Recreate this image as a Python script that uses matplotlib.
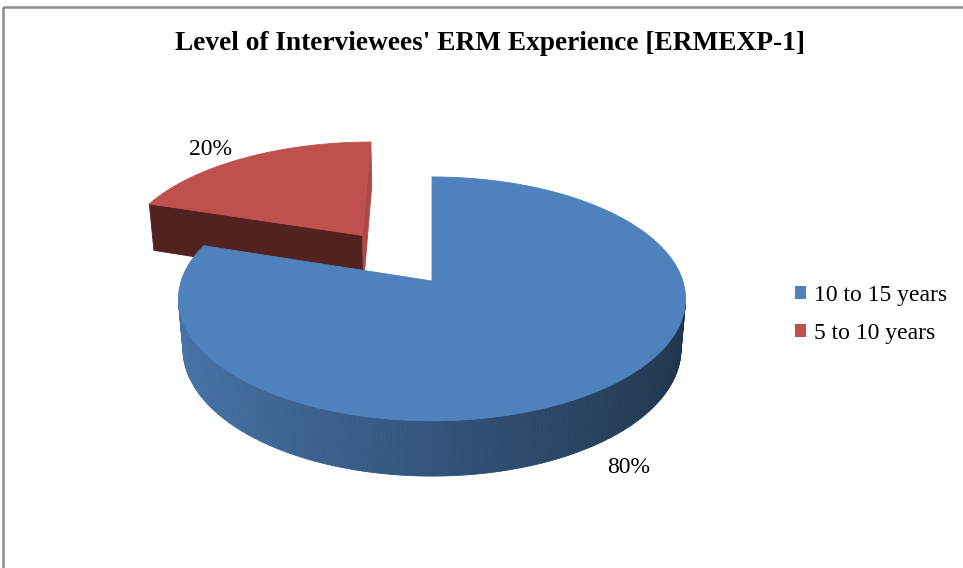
import numpy as np
import matplotlib.pyplot as plt
from matplotlib.colors import to_rgb
from matplotlib.patches import Polygon, Rectangle, Patch

title = "Level of Interviewees' ERM Experience [ERMEXP-1]"
labels = ['10 to 15 years', '5 to 10 years']
shares = [80, 20]
colors = ['#4F81BD', '#C0504D']
explode = [0.0, 0.5]

# simple perspective camera looking down on the pie
elev = np.radians(28.4)
dist = 6.0
focal = 1505.0
thick = 0.23
cx, cy = 432, 281
cam = np.array([0.0, -dist * np.cos(elev), dist * np.sin(elev)])

serif = ['Liberation Serif', 'DejaVu Serif']


def project(x, y, z):
    depth = dist + y * np.cos(elev) - z * np.sin(elev)
    u = focal * x / depth
    v = focal * (y * np.sin(elev) + z * np.cos(elev)) / depth
    return cx + u, cy - v


def shade(color, k):
    r, g, b = to_rgb(color)
    return (r * k, g * k, b * k)


def draw_poly(ax, pts3d, color):
    xs, ys = project(*np.array(pts3d).T)
    ax.add_patch(Polygon(np.column_stack([xs, ys]), closed=True,
                         facecolor=color, edgecolor=color, lw=0.6))


fig = plt.figure(figsize=(9.63, 5.68), dpi=100)
ax = fig.add_axes([0, 0, 1, 1])
ax.set_xlim(0, 963)
ax.set_ylim(568, 0)
ax.axis('off')

total = sum(shares)
starts = np.cumsum([0] + shares[:-1]) / total * 360

# back slice first so the front one covers it
for i in [1, 0]:
    a0 = np.radians(starts[i])
    a1 = np.radians(starts[i] + shares[i] / total * 360)
    mid = (a0 + a1) / 2
    ox, oy = explode[i] * np.sin(mid), explode[i] * np.cos(mid)
    apex = np.array([ox, oy, 0.0])

    # radial side faces
    for a, sgn in [(a0, -1), (a1, 1)]:
        normal = np.array([sgn * np.cos(a), -sgn * np.sin(a), 0.0])
        if np.dot(normal, cam - apex) < -1e-9:
            continue
        ex, ey = ox + np.sin(a), oy + np.cos(a)
        k = 0.42 if sgn < 0 or i == 0 else 0.9
        draw_poly(ax, [(ox, oy, 0), (ex, ey, 0), (ex, ey, -thick),
                       (ox, oy, -thick)], shade(colors[i], k))

    # outer curved wall, shaded from left to right
    t = np.linspace(a0, a1, 360)
    for ta, tb in zip(t[:-1], t[1:]):
        tm = (ta + tb) / 2
        p = np.array([ox + np.sin(tm), oy + np.cos(tm), 0.0])
        n = np.array([np.sin(tm), np.cos(tm), 0.0])
        if np.dot(n, cam - p) <= 0:
            continue
        k = 0.65 - 0.25 * np.sin(tm)
        draw_poly(ax, [(ox + np.sin(ta), oy + np.cos(ta), 0),
                       (ox + np.sin(tb), oy + np.cos(tb), 0),
                       (ox + np.sin(tb), oy + np.cos(tb), -thick),
                       (ox + np.sin(ta), oy + np.cos(ta), -thick)],
                  shade(colors[i], k))

    # top face
    top = [(ox, oy, 0)] + [(ox + np.sin(a), oy + np.cos(a), 0) for a in t]
    draw_poly(ax, top, colors[i])

    # percentage label just outside the slice
    if i == 0:
        lx, ly = project(ox + 1.17 * np.sin(mid), oy + 1.17 * np.cos(mid), -thick)
        ax.text(lx, ly, f'{shares[i]}%', ha='center', va='center',
                fontsize=17, family=serif)
    else:
        lx, ly = project(ox + 1.12 * np.sin(mid), oy + 1.12 * np.cos(mid), 0)
        ax.text(lx, ly, f'{shares[i]}%', ha='right', va='center',
                fontsize=17, family=serif)

# chart frame
ax.add_patch(Rectangle((2.5, 6.5), 980, 600, fill=False, ec='#8c8c8c', lw=1.8))

fig.text(490 / 963, 1 - 44 / 568, title, ha='center', va='center',
         fontsize=19.7, fontweight='bold', family=serif)

handles = [Patch(facecolor=c, edgecolor='none') for c in colors]
fig.legend(handles, labels, loc='center left',
           bbox_to_anchor=(774 / 963, 1 - 314 / 568), frameon=False,
           prop={'family': serif, 'size': 17}, handlelength=0.47,
           handleheight=0.47, handletextpad=0.34, labelspacing=0.72)

fig.savefig('out.png', dpi=100)
